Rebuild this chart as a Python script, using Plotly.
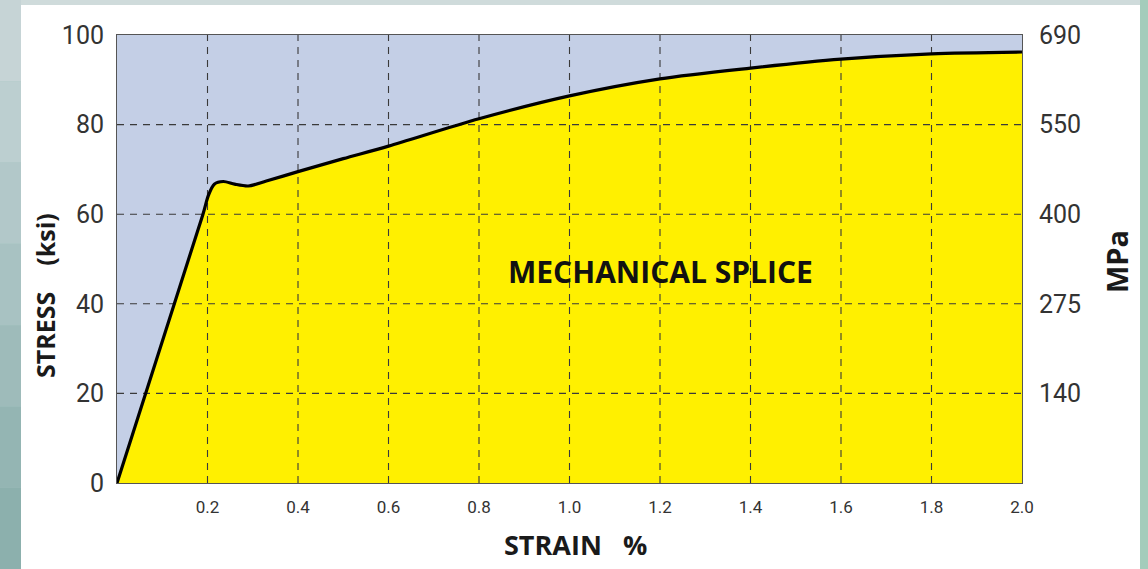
import plotly.graph_objects as go

# ---- data ----
strain = [0, 0.19, 0.202, 0.215, 0.235, 0.26, 0.29, 0.33, 0.4, 0.5, 0.6, 0.8, 1.0, 1.2, 1.4, 1.6, 1.8, 2.0]
stress_ksi = [0, 60, 64.2, 66.7, 67.3, 66.7, 66.3, 67.4, 69.5, 72.4, 75.2, 81.3, 86.4, 90.2, 92.6, 94.6, 95.8, 96.2]

x_ticks = [0.2, 0.4, 0.6, 0.8, 1.0, 1.2, 1.4, 1.6, 1.8, 2.0]
x_tick_labels = ["0.2", "0.4", "0.6", "0.8", "1.0", "1.2", "1.4", "1.6", "1.8", "2.0"]
y_ticks = [0, 20, 40, 60, 80, 100]
y_tick_labels = ["0", "20", "40", "60", "80", "100"]
mpa_labels = ["", "140", "275", "400", "550", "690"]

x_grid = [0.2, 0.4, 0.6, 0.8, 1.0, 1.2, 1.4, 1.6, 1.8]
y_grid = [20, 40, 60, 80]

X_RANGE = [0, 2.0]
Y_RANGE = [0, 100]

# background frame colours (top -> bottom) for the left edge gradient
left_edge_colors = ["#c6d4d6", "#bccfd0", "#b2c8c9", "#a8c2c2", "#9ebbba", "#94b5b3", "#8cb0ad"]

fig = go.Figure()

# yellow fill under curve
fig.add_trace(go.Scatter(
    x=strain, y=stress_ksi, mode="lines", line=dict(width=0, shape="spline", smoothing=0.8),
    fill="tozeroy", fillcolor="#fff000", hoverinfo="skip", showlegend=False))

# dashed grid lines (drawn over the fill)
gx, gy = [], []
for v in x_grid:
    gx += [v, v, None]
    gy += [Y_RANGE[0], Y_RANGE[1], None]
for v in y_grid:
    gx += [X_RANGE[0], X_RANGE[1], None]
    gy += [v, v, None]
fig.add_trace(go.Scatter(
    x=gx, y=gy, mode="lines", line=dict(color="#3a3a3a", width=1.1, dash="7px,6px"),
    hoverinfo="skip", showlegend=False))

# the stress-strain curve
fig.add_trace(go.Scatter(
    x=strain, y=stress_ksi, mode="lines",
    line=dict(color="#000000", width=3.2, shape="spline", smoothing=0.8),
    showlegend=False))

# invisible trace for the MPa axis
fig.add_trace(go.Scatter(x=[X_RANGE[0]], y=[Y_RANGE[0]], yaxis="y2", mode="markers",
                         marker=dict(opacity=0), hoverinfo="skip", showlegend=False))

tick_font = dict(family="Roboto, DejaVu Sans", color="#333333")
title_font = "Open Sans, DejaVu Sans"

W, H = 1148, 569
L, R, T, B = 117, 126, 35, 86
PW, PH = W - L - R, H - T - B


def px_x(p):
    return (p - L) / PW


def px_y(p):
    return (H - B - p) / PH


shapes = [
    # top strip
    dict(type="rect", xref="paper", yref="paper", layer="below",
         x0=px_x(0), x1=px_x(W), y0=px_y(6), y1=px_y(0),
         fillcolor="#cfdbdb", line=dict(width=0)),
    # right strip
    dict(type="rect", xref="paper", yref="paper", layer="below",
         x0=px_x(1140), x1=px_x(W), y0=px_y(H), y1=px_y(0),
         fillcolor="#a4ccbb", line=dict(width=0)),
]
n = len(left_edge_colors)
for i, c in enumerate(left_edge_colors):
    shapes.append(dict(type="rect", xref="paper", yref="paper", layer="below",
                       x0=px_x(0), x1=px_x(21),
                       y0=px_y(H * (i + 1) / n), y1=px_y(H * i / n),
                       fillcolor=c, line=dict(width=0)))
shapes += [
    dict(type="rect", xref="paper", yref="paper", layer="below",
         x0=px_x(21), x1=px_x(1140), y0=px_y(H + 20), y1=px_y(5),
         fillcolor="white", line=dict(width=0)),
    dict(type="rect", xref="paper", yref="paper", layer="below",
         x0=0, x1=1, y0=0, y1=1, fillcolor="#c4cfe6", line=dict(width=0)),
]

fig.update_layout(
    width=W, height=H,
    margin=dict(l=L, r=R, t=T, b=B),
    paper_bgcolor="#a9c6c3",
    plot_bgcolor="#c4cfe6",
    xaxis=dict(range=X_RANGE, tickvals=x_ticks, ticktext=x_tick_labels,
               showgrid=False, zeroline=False, showline=True, linecolor="#555555",
               linewidth=1, mirror=True, ticks="", ticklabelstandoff=9,
               tickfont=dict(size=17, **tick_font)),
    yaxis=dict(range=Y_RANGE, tickvals=y_ticks, ticktext=y_tick_labels,
               showgrid=False, zeroline=False, showline=True, linecolor="#555555",
               linewidth=1, mirror=True, ticks="", ticklabelstandoff=7,
               tickfont=dict(size=25, **tick_font)),
    yaxis2=dict(range=Y_RANGE, tickvals=y_ticks, ticktext=mpa_labels, overlaying="y",
                side="right", showgrid=False, zeroline=False, showline=False,
                ticks="", ticklabelstandoff=16, tickfont=dict(size=25, **tick_font)),
    shapes=shapes,
    annotations=[
        dict(text="<b>STRESS&nbsp;&nbsp;&nbsp;&nbsp;(ksi)</b>", xref="paper", yref="paper",
             x=px_x(45), y=px_y(296), textangle=-90, showarrow=False,
             xanchor="center", yanchor="middle",
             font=dict(family=title_font, size=25, color="#1a1a1a")),
        dict(text="<b>MPa</b>", xref="paper", yref="paper",
             x=px_x(1116), y=px_y(262), textangle=-90, showarrow=False,
             xanchor="center", yanchor="middle",
             font=dict(family=title_font, size=29, color="#1a1a1a")),
        dict(text="<b>STRAIN   %</b>", xref="paper", yref="paper",
             x=px_x(575), y=px_y(544), showarrow=False,
             xanchor="center", yanchor="middle",
             font=dict(family=title_font, size=27, color="#1a1a1a")),
        dict(text="<b>MECHANICAL SPLICE</b>", xref="x", yref="y",
             x=1.202, y=47.1, showarrow=False, xanchor="center", yanchor="middle",
             font=dict(family=title_font, size=30, color="#111111")),
    ],
)

fig.write_html("out.html", config={"displayModeBar": False},
               post_script="document.body.style.margin='0px';")
